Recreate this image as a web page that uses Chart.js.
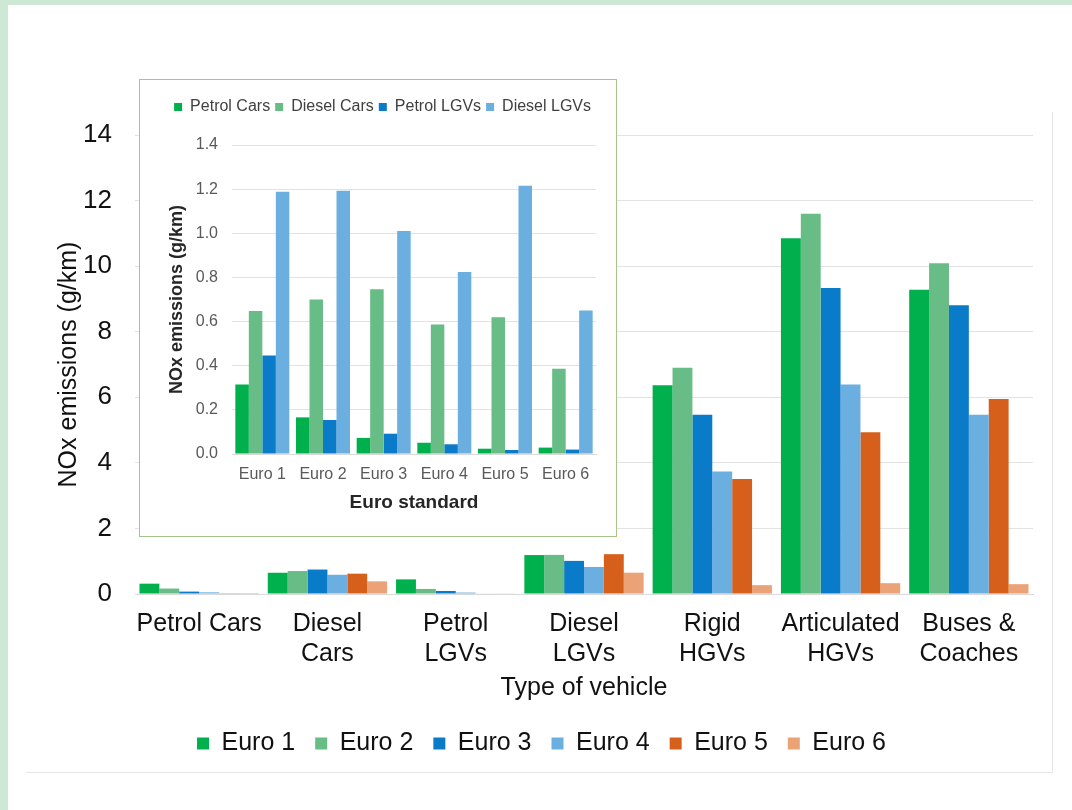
<!DOCTYPE html>
<html>
<head>
<meta charset="utf-8">
<title>NOx emissions by vehicle type</title>
<script src="https://cdn.jsdelivr.net/npm/chart.js@4/dist/chart.umd.min.js"></script>
<style>
    html, body { margin: 0; padding: 0; background: #ffffff; }
    body { width: 1072px; height: 810px; position: relative; overflow: hidden; font-family: "Liberation Sans", Arial, sans-serif; }
    .strip-top { position: absolute; left: 0; top: 0; width: 1072px; height: 5px; background: #cde9d5; }
    .strip-left { position: absolute; left: 0; top: 0; width: 8px; height: 810px; background: #cde9d5; }
    .card { position: absolute; left: 26px; top: 112px; width: 1026px; height: 660px; border-right: 1px solid #e6e6e6; border-bottom: 1px solid #e6e6e6; }
    #mainChart { position: absolute; left: 0; top: 0; }
    .inset { position: absolute; left: 139px; top: 79px; width: 476px; height: 456px; border: 1px solid #a4c48c; background: #ffffff; }
</style>
</head>
<body>
<div class="strip-top"></div>
<div class="strip-left"></div>
<div class="card"></div>
<canvas id="mainChart" width="1072" height="810"></canvas>
<div class="inset"><canvas id="insetChart" width="476" height="456"></canvas></div>

<script>
// Catégories du graphique principal
const vehicleTypes = [['Petrol Cars'], ['Diesel', 'Cars'], ['Petrol', 'LGVs'], ['Diesel', 'LGVs'], ['Rigid', 'HGVs'], ['Articulated', 'HGVs'], ['Buses &', 'Coaches']];
const euroStandards = ['Euro 1', 'Euro 2', 'Euro 3', 'Euro 4', 'Euro 5', 'Euro 6'];

// Valeurs par type de véhicule, Euro 1 .. Euro 6 (g/km)
const petrolCars = [0.315, 0.166, 0.073, 0.051, 0.024, 0.029];
const dieselCars = [0.648, 0.700, 0.746, 0.587, 0.620, 0.386];
const petrolLGVs = [0.446, 0.154, 0.092, 0.044, 0.018, 0.020];
const dieselLGVs = [1.188, 1.193, 1.010, 0.825, 1.215, 0.650];
const rigidHGVs = [6.37, 6.90, 5.47, 3.74, 3.51, 0.27];
const articulatedHGVs = [10.85, 11.60, 9.33, 6.39, 4.93, 0.33];
const busesCoaches = [9.28, 10.09, 8.81, 5.47, 5.95, 0.30];

const mainTicks = [0, 2, 4, 6, 8, 10, 12, 14];
const insetTicks = [0, 0.2, 0.4, 0.6, 0.8, 1.0, 1.2, 1.4];

const euroColors = ['#00b04c', '#68bc86', '#0a7bc9', '#6aafe0', '#d6601b', '#eba277'];
const insetSeries = ['Petrol Cars', 'Diesel Cars', 'Petrol LGVs', 'Diesel LGVs'];

const FONT = '"Liberation Sans", Arial, sans-serif';

// Espace supplémentaire sous la légende
const legendSpacer = {
    id: 'legendSpacer',
    beforeInit(chart, args, opts) {
        const originalFit = chart.legend.fit;
        chart.legend.fit = function() {
            originalFit.bind(chart.legend)();
            this.height += opts.extra || 0;
        };
    }
};

document.addEventListener('DOMContentLoaded', function() {
    initMainChart();
    initInsetChart();
});

function initMainChart() {
    const byType = [petrolCars, dieselCars, petrolLGVs, dieselLGVs, rigidHGVs, articulatedHGVs, busesCoaches];
    const datasets = euroStandards.map((name, i) => ({
        label: name,
        data: byType.map(row => row[i]),
        backgroundColor: euroColors[i],
        borderWidth: 0,
        barPercentage: 1.0,
        categoryPercentage: 0.93
    }));

    new Chart(document.getElementById('mainChart'), {
        type: 'bar',
        data: { labels: vehicleTypes, datasets: datasets },
        options: {
            responsive: false,
            animation: false,
            layout: { padding: { left: 50, right: 39, top: 135, bottom: 44 } },
            plugins: {
                legend: {
                    position: 'bottom',
                    labels: {
                        font: { family: FONT, size: 25 },
                        color: '#111111',
                        boxWidth: 12,
                        boxHeight: 12,
                        padding: 20
                    }
                },
                tooltip: { enabled: false }
            },
            scales: {
                x: {
                    afterFit: axis => { axis.height = 117; },
                    grid: { display: false, drawTicks: false },
                    border: { color: '#d9d9d9' },
                    ticks: {
                        font: { family: FONT, size: 25 },
                        color: '#111111',
                        maxRotation: 0,
                        autoSkip: false,
                        padding: 15
                    },
                    title: {
                        display: true,
                        text: 'Type of vehicle',
                        font: { family: FONT, size: 25 },
                        color: '#111111',
                        padding: { top: 0, bottom: 8 }
                    }
                },
                y: {
                    min: 0,
                    max: 14,
                    afterBuildTicks: axis => { axis.ticks = mainTicks.map(v => ({ value: v })); },
                    afterFit: axis => { axis.width = 85; },
                    grid: { color: '#e3e3e3', drawTicks: false },
                    border: { display: false },
                    ticks: {
                        font: { family: FONT, size: 26 },
                        color: '#111111',
                        padding: 23
                    },
                    title: {
                        display: true,
                        text: 'NOx emissions (g/km)',
                        font: { family: FONT, size: 25 },
                        color: '#111111',
                        padding: { top: 4, bottom: 0 }
                    }
                }
            }
        }
    });
}

function initInsetChart() {
    const series = [petrolCars, dieselCars, petrolLGVs, dieselLGVs];
    const datasets = insetSeries.map((name, i) => ({
        label: name,
        data: series[i],
        backgroundColor: euroColors[i],
        borderWidth: 0,
        barPercentage: 1.0,
        categoryPercentage: 0.89
    }));

    new Chart(document.getElementById('insetChart'), {
        type: 'bar',
        data: { labels: euroStandards, datasets: datasets },
        plugins: [legendSpacer],
        options: {
            responsive: false,
            animation: false,
            layout: { padding: { left: 10, right: 20, top: 14, bottom: 22 } },
            plugins: {
                legendSpacer: { extra: 20 },
                legend: {
                    position: 'top',
                    align: 'end',
                    labels: {
                        font: { family: FONT, size: 16 },
                        color: '#404040',
                        boxWidth: 8,
                        boxHeight: 8,
                        padding: 5
                    }
                },
                tooltip: { enabled: false }
            },
            scales: {
                x: {
                    grid: { display: false },
                    border: { color: '#d9d9d9' },
                    ticks: {
                        font: { family: FONT, size: 16 },
                        color: '#595959',
                        maxRotation: 0,
                        autoSkip: false,
                        padding: 3
                    },
                    title: {
                        display: true,
                        text: 'Euro standard',
                        font: { family: FONT, size: 19, weight: 'bold' },
                        color: '#262626',
                        padding: { top: 4, bottom: 0 }
                    }
                },
                y: {
                    min: 0,
                    max: 1.4,
                    afterBuildTicks: axis => { axis.ticks = insetTicks.map(v => ({ value: v })); },
                    afterFit: axis => { axis.width = 82; },
                    grid: { color: '#e3e3e3', drawTicks: false },
                    border: { display: false },
                    ticks: {
                        font: { family: FONT, size: 16 },
                        color: '#595959',
                        padding: 14,
                        callback: value => Number(value).toFixed(1)
                    },
                    title: {
                        display: true,
                        text: 'NOx emissions (g/km)',
                        font: { family: FONT, size: 18, weight: 'bold' },
                        color: '#262626',
                        padding: { top: 16, bottom: 0 }
                    }
                }
            }
        }
    });
}
</script>
</body>
</html>
